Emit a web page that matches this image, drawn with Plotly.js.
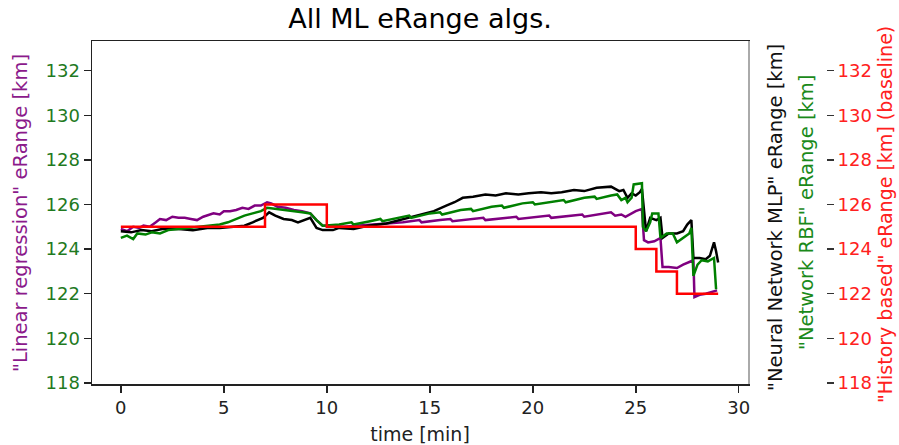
<!DOCTYPE html>
<html>
<head>
<meta charset="utf-8">
<script src="https://cdn.plot.ly/plotly-3.0.1.min.js"></script>
<style>html,body{margin:0;padding:0;background:#fff;}#chart{width:899px;height:445px;}</style>
</head>
<body>
<div id="chart"></div>
<script>
// ---- data ----
const chartTitle = "All ML eRange algs.";
const xTitle = "time [min]";
const titleLinReg = "\"Linear regression\" eRange [km]";
const titleMLP = "\"Neural Network MLP\" eRange [km]";
const titleRBF = "\"Network RBF\" eRange [km]";
const titleHist = "\"History based\" eRange [km] (baseline)";

const xTicks = [0, 5, 10, 15, 20, 25, 30];
const yTicks = [118, 120, 122, 124, 126, 128, 130, 132];

const linRegT = [0, 0.3, 0.6, 0.9, 1.1, 1.4, 1.7, 1.9, 2.2, 2.5, 2.8, 3.1, 3.4, 3.7, 4.0, 4.3, 4.5, 4.8, 5.0, 5.3, 5.6, 5.9, 6.2, 6.5, 6.8, 7.1, 7.3, 7.6, 8.0, 8.4, 8.8, 9.2, 9.5, 9.8, 10.2, 10.8, 11.5, 12.2, 13.0, 13.7, 14.5, 14.6, 15.5, 16.0, 16.1, 17.0, 17.6, 17.7, 18.6, 19.2, 19.3, 20.2, 20.8, 20.9, 21.8, 22.4, 22.5, 23.4, 23.8, 24.0, 24.3, 24.5, 24.8, 25.0, 25.3, 25.4, 25.6, 25.9, 26.2, 26.3, 26.6, 27.0, 27.3, 27.6, 27.8, 27.85, 28.1, 28.4, 28.7, 28.95];
const linRegV = [124.9, 124.8, 125.0, 124.95, 125.05, 125.0, 125.2, 125.35, 125.3, 125.45, 125.4, 125.4, 125.35, 125.3, 125.45, 125.55, 125.6, 125.55, 125.7, 125.7, 125.75, 125.85, 125.8, 125.95, 125.95, 126.1, 126.05, 125.9, 125.85, 125.75, 125.7, 125.6, 125.3, 125.05, 125.05, 125.0, 125.05, 125.1, 125.15, 125.2, 125.3, 125.2, 125.3, 125.35, 125.25, 125.35, 125.4, 125.3, 125.4, 125.45, 125.35, 125.45, 125.5, 125.4, 125.5, 125.55, 125.45, 125.6, 125.65, 125.5, 125.55, 125.45, 125.6, 125.7, 125.8, 124.4, 124.3, 124.35, 124.5, 123.2, 123.2, 123.15, 123.3, 123.4, 123.5, 121.85, 121.95, 122.0, 122.1, 122.15];

const mlpT = [0, 0.5, 1.0, 1.5, 2.0, 2.8, 3.5, 4.2, 4.8, 5.4, 6.0, 6.4, 6.9, 7.2, 7.5, 7.9, 8.3, 8.6, 9.0, 9.2, 9.5, 9.8, 10.3, 10.6, 11.3, 12.0, 12.9, 13.5, 14.5, 15.2, 15.8, 16.2, 16.6, 17.1, 17.7, 18.2, 18.7, 19.3, 19.8, 20.4, 20.9, 21.4, 22.0, 22.5, 23.1, 23.8, 24.2, 24.4, 24.6, 24.8, 25.0, 25.2, 25.3, 25.4, 25.5, 25.7, 26.0, 26.2, 26.3, 26.6, 27.0, 27.3, 27.5, 27.7, 27.8, 28.1, 28.4, 28.6, 28.8, 28.9, 29.0];
const mlpV = [124.8, 124.75, 124.85, 124.8, 124.9, 124.9, 124.85, 124.95, 124.95, 125.0, 125.05, 125.2, 125.4, 125.65, 125.5, 125.35, 125.3, 125.2, 125.35, 125.4, 124.95, 124.85, 124.85, 124.95, 124.9, 125.05, 125.15, 125.3, 125.55, 125.7, 125.95, 126.1, 126.3, 126.35, 126.45, 126.4, 126.5, 126.45, 126.5, 126.55, 126.5, 126.55, 126.65, 126.6, 126.75, 126.8, 126.6, 126.65, 126.3, 126.5, 126.4, 126.55, 126.7, 125.7, 124.8, 125.4, 125.3, 125.4, 124.5, 124.7, 124.7, 124.8, 125.1, 125.3, 123.6, 123.6, 123.55, 123.7, 124.3, 123.9, 123.4];

const rbfT = [0, 0.3, 0.6, 0.8, 1.2, 1.5, 1.9, 2.3, 2.8, 3.3, 3.8, 4.4, 4.8, 5.2, 5.6, 6.0, 6.4, 6.8, 7.1, 7.6, 8.0, 8.4, 8.8, 9.2, 9.5, 9.8, 10.3, 10.6, 11.2, 11.3, 12.1, 12.6, 12.7, 13.5, 14.0, 14.1, 15.0, 15.5, 15.6, 16.5, 17.0, 17.1, 18.0, 18.5, 18.6, 19.5, 20.0, 20.1, 21.0, 21.5, 21.6, 22.5, 23.0, 23.1, 23.8, 24.1, 24.3, 24.5, 24.6, 24.8, 24.9, 25.3, 25.35, 25.5, 25.7, 25.8, 26.1, 26.2, 26.5, 26.8, 27.0, 27.3, 27.6, 27.7, 27.8, 28.0, 28.2, 28.5, 28.8, 28.9];
const rbfV = [124.5, 124.6, 124.45, 124.7, 124.65, 124.75, 124.7, 124.85, 124.9, 124.95, 125.0, 125.05, 125.1, 125.2, 125.35, 125.5, 125.6, 125.7, 125.85, 125.8, 125.75, 125.7, 125.65, 125.6, 125.3, 125.05, 125.1, 125.1, 125.2, 125.1, 125.25, 125.35, 125.25, 125.4, 125.5, 125.4, 125.6, 125.65, 125.55, 125.75, 125.8, 125.7, 125.9, 125.95, 125.85, 126.05, 126.1, 126.0, 126.15, 126.2, 126.1, 126.3, 126.35, 126.25, 126.4, 126.45, 126.2, 126.3, 126.1, 126.3, 126.9, 126.95, 125.0, 124.8, 125.2, 125.6, 125.6, 124.5, 124.7, 124.7, 124.3, 124.5, 124.7, 124.95, 122.8, 123.3, 123.5, 123.45, 123.6, 122.2];

const histT = [0, 7, 10, 25, 26, 27, 29];
const histV = [125, 126, 125, 124, 123, 122, 122];

// ---- chart ----
const W = 899, H = 445;
const px = v => v / W, py = v => 1 - v / H;
const FONT = "DejaVu Sans, sans-serif";
const yRange = [117.95, 133.33];
const xDom = [px(92), px(748)];
const yDom = [py(384), py(41)];

const traces = [
  {x: linRegT, y: linRegV, yaxis: "y", type: "scatter", mode: "lines", line: {color: "#800080", width: 2.5}},
  {x: mlpT, y: mlpV, yaxis: "y2", type: "scatter", mode: "lines", line: {color: "#000000", width: 2.5}},
  {x: rbfT, y: rbfV, yaxis: "y3", type: "scatter", mode: "lines", line: {color: "#008000", width: 2.5}},
  {x: histT, y: histV, yaxis: "y4", type: "scatter", mode: "lines", line: {color: "#ff0000", width: 2.5, shape: "hv"}}
];

const baseY = {range: yRange, showgrid: false, zeroline: false, fixedrange: true};

const layout = {
  width: W, height: H,
  margin: {l: 0, r: 0, t: 0, b: 0},
  paper_bgcolor: "#fff", plot_bgcolor: "#fff",
  showlegend: false,
  font: {family: FONT, size: 18, color: "#000"},
  title: {text: chartTitle, font: {family: FONT, size: 27, color: "#000"}, x: px(420), xanchor: "center", y: py(19), yanchor: "middle", xref: "paper"},
  xaxis: {domain: xDom, range: [-1.4, 30.45], tickvals: xTicks, ticks: "outside", ticklen: 7, tickwidth: 1.5, tickcolor: "#222",
          showline: true, linecolor: "#222", linewidth: 1.5, mirror: true, showgrid: false, zeroline: false,
          tickfont: {family: FONT, size: 18, color: "#222"},
          title: {text: xTitle, font: {family: FONT, size: 19, color: "#222"}, standoff: 10}},
  yaxis: Object.assign({}, baseY, {domain: yDom, anchor: "x", side: "left", tickvals: yTicks, ticks: "outside", ticklen: 7, tickwidth: 1.5, tickcolor: "#222",
          showline: true, linecolor: "#222", linewidth: 1.5, tickfont: {family: FONT, size: 18, color: "#1f7a1f"}}),
  yaxis2: Object.assign({}, baseY, {overlaying: "y", anchor: "x", side: "right", showline: true, linecolor: "#aaaaaa", linewidth: 1.5,
          ticks: "", showticklabels: false}),
  yaxis3: Object.assign({}, baseY, {overlaying: "y", anchor: "x", side: "right", showline: false, ticks: "", showticklabels: false}),
  yaxis4: Object.assign({}, baseY, {overlaying: "y", anchor: "free", position: px(826), side: "right", showline: false,
          tickvals: yTicks, ticks: "outside", ticklen: 7, tickwidth: 1.5, tickcolor: "#333",
          tickfont: {family: FONT, size: 18, color: "#ff2020"}}),
  annotations: [
    {text: titleLinReg, xref: "paper", yref: "paper", x: px(20), y: py(213), textangle: -90, showarrow: false, xanchor: "center", yanchor: "middle", font: {family: FONT, size: 19.5, color: "#8b1a8b"}},
    {text: titleMLP, xref: "paper", yref: "paper", x: px(775), y: py(218), textangle: -90, showarrow: false, xanchor: "center", yanchor: "middle", font: {family: FONT, size: 19.5, color: "#111"}},
    {text: titleRBF, xref: "paper", yref: "paper", x: px(806), y: py(213), textangle: -90, showarrow: false, xanchor: "center", yanchor: "middle", font: {family: FONT, size: 19.5, color: "#1a8a1a"}},
    {text: titleHist, xref: "paper", yref: "paper", x: px(885), y: py(215), textangle: -90, showarrow: false, xanchor: "center", yanchor: "middle", font: {family: FONT, size: 19, color: "#ff2020"}}
  ]
};

Plotly.newPlot("chart", traces, layout, {displayModeBar: false, staticPlot: true});
</script>
</body>
</html>
